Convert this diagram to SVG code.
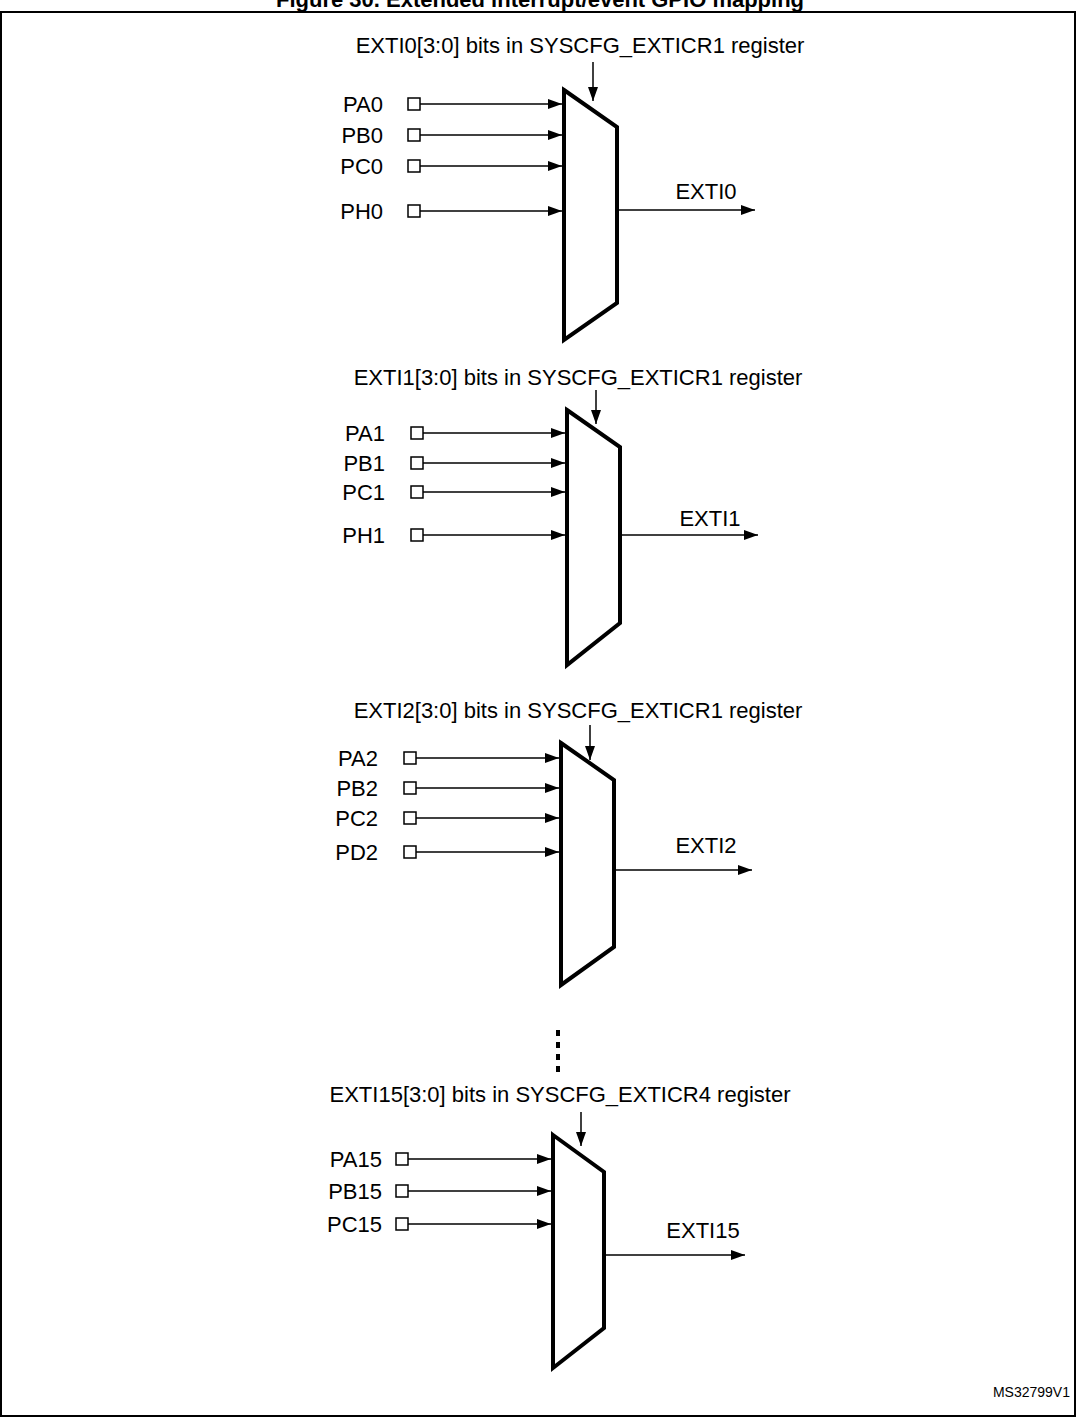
<svg xmlns="http://www.w3.org/2000/svg" width="1077" height="1418" viewBox="0 0 1077 1418">
<defs>
<marker id="ah" markerWidth="14" markerHeight="10" refX="14" refY="5" orient="auto" markerUnits="userSpaceOnUse"><path d="M0,0 L14,5 L0,10 Z" fill="#000"/></marker>
</defs>
<style>
text{font-family:"Liberation Sans",Arial,sans-serif;font-size:22px;fill:#000}
.l{text-anchor:end}
.c{text-anchor:middle}
.mux{fill:none;stroke:#000;stroke-width:4;stroke-linejoin:miter}
.w{stroke:#000;stroke-width:1.5;fill:none}
.sq{fill:#fff;stroke:#000;stroke-width:1.5}
</style>
<rect width="1077" height="1418" fill="#fff"/>
<text x="540" y="7" class="c" style="font-weight:bold;font-size:22px">Figure 30. Extended interrupt/event GPIO mapping</text>
<rect x="1" y="12" width="1074" height="1404" fill="none" stroke="#000" stroke-width="2"/>

<g id="mux0">
<text x="580" y="53" class="c">EXTI0[3:0] bits in SYSCFG_EXTICR1 register</text>
<path class="mux" d="M564,90 L617,127 L617,303 L564,340 Z"/>
<text x="383" y="112" class="l">PA0</text><text x="383" y="143" class="l">PB0</text><text x="383" y="174" class="l">PC0</text><text x="383" y="219" class="l">PH0</text>
<text x="706" y="199" class="c">EXTI0</text>
</g>
<g id="mux1">
<text x="578" y="385" class="c">EXTI1[3:0] bits in SYSCFG_EXTICR1 register</text>
<path class="mux" d="M567,410 L620,447 L620,623 L567,665 Z"/>
<text x="385" y="441" class="l">PA1</text><text x="385" y="471" class="l">PB1</text><text x="385" y="500" class="l">PC1</text><text x="385" y="543" class="l">PH1</text>
<text x="710" y="526" class="c">EXTI1</text>
</g>
<g id="mux2">
<text x="578" y="718" class="c">EXTI2[3:0] bits in SYSCFG_EXTICR1 register</text>
<path class="mux" d="M561,743 L614,780 L614,947 L561,985 Z"/>
<text x="378" y="766" class="l">PA2</text><text x="378" y="796" class="l">PB2</text><text x="378" y="826" class="l">PC2</text><text x="378" y="860" class="l">PD2</text>
<text x="706" y="853" class="c">EXTI2</text>
</g>
<g id="mux15">
<text x="560" y="1102" class="c">EXTI15[3:0] bits in SYSCFG_EXTICR4 register</text>
<path class="mux" d="M553,1135 L604,1172 L604,1328 L553,1368 Z"/>
<text x="382" y="1167" class="l">PA15</text><text x="382" y="1199" class="l">PB15</text><text x="382" y="1232" class="l">PC15</text>
<text x="703" y="1238" class="c">EXTI15</text>
</g>
<text x="1070" y="1397" style="font-size:14px" class="l">MS32799V1</text>

<g id="connectors">
<g class="w" marker-end="url(#ah)">
<line x1="420" y1="104" x2="562" y2="104"/><line x1="420" y1="135" x2="562" y2="135"/><line x1="420" y1="166" x2="562" y2="166"/><line x1="420" y1="211" x2="562" y2="211"/>
<line x1="617" y1="210" x2="755" y2="210"/>
<line x1="423" y1="433" x2="565" y2="433"/><line x1="423" y1="463" x2="565" y2="463"/><line x1="423" y1="492" x2="565" y2="492"/><line x1="423" y1="535" x2="565" y2="535"/>
<line x1="620" y1="535" x2="758" y2="535"/>
<line x1="416" y1="758" x2="559" y2="758"/><line x1="416" y1="788" x2="559" y2="788"/><line x1="416" y1="818" x2="559" y2="818"/><line x1="416" y1="852" x2="559" y2="852"/>
<line x1="614" y1="870" x2="752" y2="870"/>
<line x1="408" y1="1159" x2="551" y2="1159"/><line x1="408" y1="1191" x2="551" y2="1191"/><line x1="408" y1="1224" x2="551" y2="1224"/>
<line x1="604" y1="1255" x2="745" y2="1255"/>
<line x1="593" y1="62" x2="593" y2="101"/>
<line x1="596" y1="390" x2="596" y2="424"/>
<line x1="590" y1="725" x2="590" y2="760"/>
<line x1="581" y1="1112" x2="581" y2="1146"/>
</g>
<g class="sq">
<rect x="408" y="98" width="12" height="12"/><rect x="408" y="129" width="12" height="12"/><rect x="408" y="160" width="12" height="12"/><rect x="408" y="205" width="12" height="12"/>
<rect x="411" y="427" width="12" height="12"/><rect x="411" y="457" width="12" height="12"/><rect x="411" y="486" width="12" height="12"/><rect x="411" y="529" width="12" height="12"/>
<rect x="404" y="752" width="12" height="12"/><rect x="404" y="782" width="12" height="12"/><rect x="404" y="812" width="12" height="12"/><rect x="404" y="846" width="12" height="12"/>
<rect x="396" y="1153" width="12" height="12"/><rect x="396" y="1185" width="12" height="12"/><rect x="396" y="1218" width="12" height="12"/>
</g>
<line x1="558" y1="1030" x2="558" y2="1072" stroke="#000" stroke-width="4" stroke-dasharray="6,6"/>
</g>
</svg>
